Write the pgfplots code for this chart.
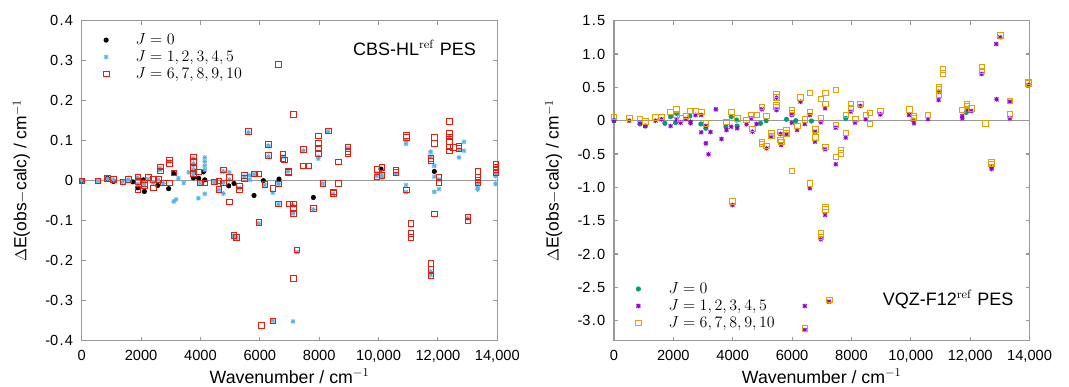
\documentclass[border=0pt]{standalone}
\usepackage[no-math]{fontspec}
\setmainfont{Liberation Sans}
\usepackage{pgfplots}
\pgfplotsset{compat=1.18}
\definecolor{cblue}{HTML}{56B4E9}
\definecolor{cred}{HTML}{E51E10}
\definecolor{cgreen}{HTML}{009E73}
\definecolor{cpurp}{HTML}{9400D3}
\definecolor{corange}{HTML}{E69F00}
\newcommand{\dd}{\kern0.9pt.\kern0.9pt}
\pgfdeclareplotmark{gpstar}{%
 \pgfpathmoveto{\pgfqpoint{-\pgfplotmarksize}{0pt}}\pgfpathlineto{\pgfqpoint{\pgfplotmarksize}{0pt}}%
 \pgfpathmoveto{\pgfqpoint{0pt}{-\pgfplotmarksize}}\pgfpathlineto{\pgfqpoint{0pt}{\pgfplotmarksize}}%
 \pgfpathmoveto{\pgfqpoint{-.8\pgfplotmarksize}{-.8\pgfplotmarksize}}\pgfpathlineto{\pgfqpoint{.8\pgfplotmarksize}{.8\pgfplotmarksize}}%
 \pgfpathmoveto{\pgfqpoint{-.8\pgfplotmarksize}{.8\pgfplotmarksize}}\pgfpathlineto{\pgfqpoint{.8\pgfplotmarksize}{-.8\pgfplotmarksize}}%
 \pgfusepathqstroke}

\pgfplotstableread{
x y
0 0
865 0.006
1067 -0.002
1718 -0.003
1886 -0.018
2077 0.002
2110 -0.027
2560 -0.012
2930 -0.020
3099 0.018
3761 0.007
3940 0.006
4098 0.022
4143 0.002
4951 -0.013
5131 -0.007
5804 -0.037
6119 0.000
6646 0.004
7803 -0.042
10082 0.029
11878 0.023
}\LzeroTab

\pgfplotstableread{
x y
0 0
540 -0.001
865 0.005
1067 0.002
1380 -0.003
1570 0.002
1886 0.008
1886 -0.008
2100 -0.003
2100 -0.009
2234 0.004
2414 -0.005
2571 0.002
2640 0.031
2640 0.027
2750 -0.007
2940 0.048
3099 -0.052
3177 -0.047
3256 0.006
3435 -0.006
3604 0.021
3761 0.056
3761 0.043
3761 0.038
3761 0.027
3761 0.018
3929 -0.044
3985 -0.006
4143 0.058
4143 0.048
4143 0.037
4143 0.027
4143 -0.033
4468 -0.005
4614 -0.023
4771 0.023
4771 -0.032
4771 -0.005
4973 0.021
4973 0.003
5119 -0.138
5209 -0.143
5299 -0.019
5479 0.010
5614 0.121
5658 0.013
5658 0.002
5804 0.016
5961 -0.107
6163 -0.011
6287 0.087
6287 0.060
6433 -0.350
6433 -0.030
6624 -0.059
6624 -0.008
6770 0.060
6950 0.023
7118 -0.352
7118 -0.082
7118 -0.062
7252 -0.179
7466 0.075
7803 -0.072
7971 0.060
7971 0.055
8117 -0.008
8297 0.123
8465 -0.033
8970 0.081
9936 0.018
9936 0.012
10104 0.008
10104 0.015
10576 0.017
10924 0.100
10924 0.092
10924 -0.011
10924 -0.029
11754 -0.227
11754 -0.236
11754 0.072
11754 0.060
11878 0.037
11878 -0.028
11878 0.010
12035 -0.021
12035 0.003
12383 0.110
12709 0.058
12709 0.077
12877 0.097
12877 0.075
13000 -0.094
13337 -0.007
13337 -0.015
13337 -0.022
13943 0.017
13943 0.012
13943 -0.008
}\LoneTab

\pgfplotstableread{
x y
0 0
540 0
865 0.006
1067 0.003
1380 -0.003
1570 0.004
1886 0.010
1886 -0.001
1886 -0.021
2100 -0.007
2100 -0.011
2234 0.008
2414 0.004
2414 -0.018
2571 0.003
2640 0.035
2640 0.025
2750 -0.005
2940 0.052
2940 0.043
2940 -0.005
3099 0.020
3761 0.060
3761 0.048
3761 0.031
3761 0.018
3929 0.022
3985 -0.005
4143 -0.005
4468 -0.003
4614 0.000
4614 -0.022
4771 0.027
4771 -0.005
4973 0.008
4973 -0.053
5119 -0.136
5209 -0.142
5299 -0.013
5299 -0.023
5479 0.013
5479 0.006
5614 0.123
5804 0.017
5961 -0.104
5961 0.017
6040 -0.362
6163 -0.009
6287 0.091
6287 0.063
6433 -0.350
6433 -0.019
6624 0.291
6624 -0.008
6624 -0.058
6770 0.066
6770 0.056
6815 0.052
6950 0.024
6950 0.021
6994 -0.058
7118 0.166
7118 -0.058
7118 -0.069
7118 -0.082
7118 -0.244
7252 -0.173
7466 0.078
7466 0.037
7634 0.037
7803 -0.069
7971 0.112
7971 0.093
7971 0.081
7971 0.068
8117 -0.006
8297 0.125
8465 -0.028
8465 -0.032
8634 0.047
8634 -0.006
8970 0.085
8970 0.073
8970 0.067
9936 0.029
9936 0.010
10104 0.033
10104 0.013
10576 0.027
10576 0.021
10924 0.113
10924 0.108
10924 -0.023
11081 -0.107
11081 -0.132
11081 -0.142
11754 -0.207
11754 -0.222
11754 -0.238
11754 0.056
11754 0.050
11878 -0.083
11878 0.108
11878 0.093
12035 0.010
12035 -0.005
12383 0.149
12383 0.118
12383 0.110
12383 0.098
12383 0.085
12383 0.075
12518 0.083
12709 0.087
12709 0.081
13000 -0.090
13000 -0.100
13337 0.024
13337 0.010
13337 0.002
13337 -0.005
13943 0.041
13943 0.035
13943 0.029
13943 0.020
}\LtwoTab

\pgfplotstableread{
x y
0 0
875 -0.05
1055 -0.08
1716 -0.04
1907 0.06
2075 -0.03
2109 0.11
2558 0.07
2928 -0.05
3096 -0.115
3770 -0.09
3949 0.06
4128 0.01
4150 -0.08
4936 -0.04
5127 0.0
5811 0.02
6125 0.0
6652 -0.005
7808 0.035
10073 0.01
11868 0.125
}\RzeroTab

\pgfplotstableread{
x y
0 0
516 0
875 -0.03
1055 -0.08
1402 0
1604 0.02
1907 -0.08
2109 0.01
2244 -0.03
2423 0.025
2580 -0.015
2580 -0.04
2748 0.085
2939 0.085
2939 -0.175
3096 -0.08
3096 -0.34
3186 -0.505
3253 -0.17
3433 0.17
3623 -0.275
3792 -0.14
3949 -0.09
3994 -1.265
4150 -0.115
4465 -0.055
4622 0.035
4667 -0.165
4801 -0.05
4981 0.17
5138 -0.415
5295 -0.24
5475 0.345
5475 0.16
5609 -0.2
5631 -0.365
5811 -0.2
5990 0.085
5990 -0.03
6170 -0.14
6282 0.285
6428 -2.78
6428 -3.14
6428 -0.05
6596 -1.015
6596 0.085
6775 -0.315
6775 -0.165
6966 -0.025
6966 -1.78
7112 0.185
7112 -0.43
7112 -1.415
7247 -2.715
7472 -0.105
7472 -0.655
7808 -0.255
7976 0.135
8122 -0.03
8301 0.22
8481 0.02
8974 0.095
9939 0.085
10107 -0.04
10578 0.025
10937 0.435
10937 0.31
11734 0.07
11734 0.035
11891 0.17
12037 0.145
12385 0.70
12721 -0.70
12721 -0.725
12878 1.15
12890 0.32
13013 1.25
13338 0.285
13338 0.035
13966 0.535
}\RoneTab

\pgfplotstableread{
x y
0 0.06
516 0.04
875 0.025
1055 -0.01
1402 0.05
1604 0.06
1907 0.135
2109 0.175
2109 0.085
2244 0.035
2423 0.07
2580 0.15
2748 0.15
2939 0.135
3096 -0.04
3792 -0.015
3949 0.135
3994 -1.21
4150 0.035
4465 0.01
4622 0.085
4667 -0.125
4801 0.085
4981 0.21
4981 -0.315
4981 -0.35
5138 0.07
5138 -0.375
5295 -0.18
5295 -0.23
5475 0.395
5475 0.35
5475 0.235
5475 0.21
5609 -0.165
5609 -0.29
5631 -0.315
5811 -0.14
5811 -0.19
5990 -0.75
5990 0.16
5990 0.12
6170 -0.08
6282 0.35
6428 -3.115
6428 0.02
6596 -0.94
6596 0.42
6596 0.135
6775 -0.25
6775 -0.13
6966 0.325
6966 0.035
6966 -1.69
6966 -1.74
7112 0.42
7112 0.25
7112 -0.39
7112 -1.29
7112 -1.33
7247 -2.69
7472 0.46
7472 -0.065
7472 -0.54
7640 -0.44
7640 -0.49
7808 -0.18
7808 0.085
7976 0.25
7976 0.185
8122 0.025
8301 0.25
8481 0.085
8616 0.12
8616 -0.05
8974 0.145
9939 0.17
10107 0.07
10107 0.04
10578 0.085
10937 0.50
10937 0.47
10937 0.385
11083 0.77
11083 0.71
11734 0.16
11891 0.25
11891 0.22
12037 0.185
12385 0.81
12385 0.75
12519 -0.04
12721 -0.615
12721 -0.65
13013 1.285
13338 0.295
13338 0.095
13966 0.585
13966 0.56
}\RtwoTab

\pgfplotsset{
 myax/.style={
   scale only axis, width=311.7pt, height=240pt,
   xmin=0, xmax=14000, clip=false,
   scaled x ticks=false, scaled y ticks=false,
   xtick={0,2000,4000,6000,8000,10000,12000,14000},
   xticklabels={0,2000,4000,6000,8000,{10,000},{12,000},{14,000}},
   tick align=inside, major tick length=3pt,
   axis line style={black!40, line width=0.8pt},
   tick style={black!40, line width=0.8pt},
   xticklabel style={font=\fontsize{11}{13}\selectfont, yshift=-4pt},
   yticklabel style={font=\fontsize{11}{13}\selectfont, xshift=-3pt},
   xlabel={Wavenumber / cm$^{-1}$},
   ylabel={$\Delta$E(obs$-$calc) / cm$^{-1}$},
   every axis x label/.style={at={(axis description cs:0.5,-0.1125)}, anchor=center, font=\fontsize{13.3}{15}\selectfont},
   every axis y label/.style={at={(axis description cs:-0.145,0.5)}, anchor=center, rotate=90, font=\fontsize{13.1}{15}\selectfont},
   legend style={draw=none, fill=none, font=\fontsize{12}{13}\selectfont, row sep=-1pt},
   legend cell align=left,
 },
 s0/.style={only marks, mark=*, mark size=1.7pt},
 s1/.style={only marks, mark=gpstar, mark size=1.8pt, line width=0.6pt},
 s2/.style={only marks, mark=square, mark size=2.1pt, line width=0.45pt},
}

\begin{document}
\begin{tikzpicture}
\path[use as bounding box] (-61.3pt,-34.7pt) rectangle (740.5pt,255.5pt);
\begin{axis}[myax, at={(0pt,0pt)}, anchor=south west,
  ymin=-0.4, ymax=0.4,
  ytick={-0.4,-0.3,-0.2,-0.1,0,0.1,0.2,0.3,0.4},
  yticklabels={-0\dd4,-0\dd3,-0\dd2,-0\dd1,0,0\dd1,0\dd2,0\dd3,0\dd4},
  legend style={at={(rel axis cs:0,1)}, anchor=north west, xshift=13pt, yshift=-5.5pt}]
\addplot[black!40, line width=1pt, forget plot] coordinates {(0,0) (14000,0)};
\addplot[s0, black] table {\LzeroTab};
\addlegendentry{\hspace{18pt}$J=0$}
\addplot[s1, cblue] table {\LoneTab};
\addlegendentry{\hspace{18pt}$J=1,2,3,4,5$}
\addplot[s2, cred] table {\LtwoTab};
\addlegendentry{\hspace{18pt}$J=6,7,8,9,10$}
\node[anchor=east, inner sep=0pt, font=\fontsize{13.5}{15}\selectfont] at (rel axis cs:0.949,0.916) {CBS-HL$^{\mathrm{ref}}$ PES};
\end{axis}
\begin{axis}[myax, at={(399.2pt,0pt)}, anchor=south west,
  ymin=-3.3, ymax=1.5,
  ytick={-3,-2.5,-2,-1.5,-1,-0.5,0,0.5,1,1.5},
  yticklabels={-3\dd0,-2\dd5,-2\dd0,-1\dd5,-1\dd0,-0\dd5,0,0\dd5,1\dd0,1\dd5},
  legend style={at={(rel axis cs:0,0)}, anchor=south west, xshift=13pt, yshift=4.3pt}]
\addplot[black!40, line width=1pt, forget plot] coordinates {(0,0) (14000,0)};
\addplot[s0, cgreen] table {\RzeroTab};
\addlegendentry{\hspace{18.5pt}$J=0$}
\addplot[s1, cpurp] table {\RoneTab};
\addlegendentry{\hspace{18.5pt}$J=1,2,3,4,5$}
\addplot[s2, corange] table {\RtwoTab};
\addlegendentry{\hspace{18.5pt}$J=6,7,8,9,10$}
\node[anchor=east, inner sep=0pt, font=\fontsize{13.5}{15}\selectfont] at (rel axis cs:0.962,0.127) {VQZ-F12$^{\mathrm{ref}}$ PES};
\end{axis}
\end{tikzpicture}
\end{document}
